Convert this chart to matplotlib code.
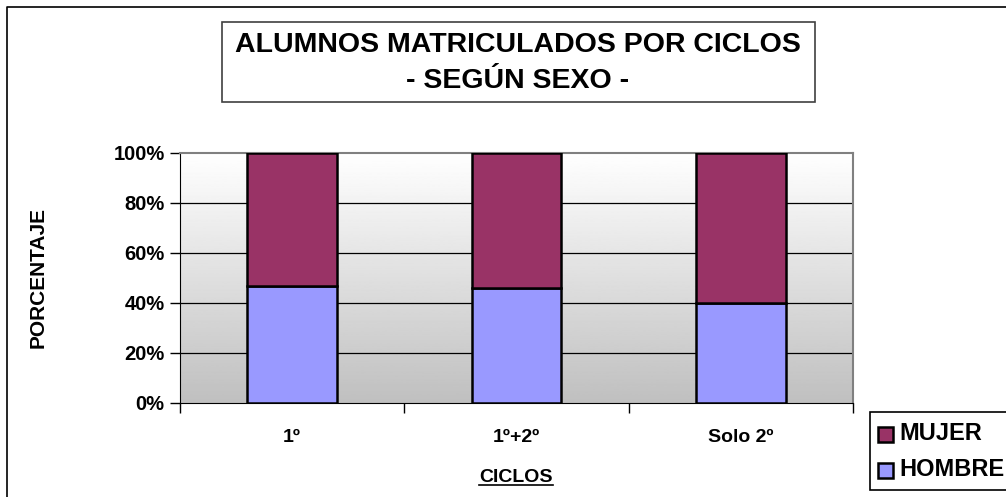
import matplotlib
matplotlib.use('Agg')
import matplotlib.pyplot as plt
import numpy as np
from matplotlib.patches import Rectangle
from matplotlib.lines import Line2D
from matplotlib.ticker import PercentFormatter

plt.rcParams['font.family'] = ['Liberation Sans', 'DejaVu Sans']

# Data
ciclos = ['1º', '1º+2º', 'Solo 2º']
hombre = [47, 46, 40]
mujer = [53, 54, 60]
color_hombre = '#9999FF'
color_mujer = '#993366'

W, H = 1006, 497
fig = plt.figure(figsize=(W / 100, H / 100), dpi=100)

def fx(px):
    return px / W

def fy(py):
    return 1 - py / H

# outer chart border (cut at right and bottom)
fig.add_artist(Line2D([fx(7), fx(7), fx(1006)], [fy(497), fy(7), fy(7)],
                      transform=fig.transFigure, color='black', lw=1.2))

# plot area
ax = fig.add_axes([fx(180), fy(403), fx(853) - fx(180), fy(153) - fy(403)])
x = np.arange(len(ciclos))
ax.set_xlim(-0.5, len(ciclos) - 0.5)
ax.set_ylim(0, 100)

# gradient background
grad = np.linspace(1.0, 0.75, 256).reshape(-1, 1)
ax.imshow(grad, cmap='gray', vmin=0, vmax=1, aspect='auto',
          extent=[-0.5, len(ciclos) - 0.5, 0, 100], origin='upper', zorder=0)

for yv in [20, 40, 60, 80]:
    ax.axhline(yv, color='black', lw=0.9, zorder=1)

ax.bar(x, hombre, width=0.4, color=color_hombre, edgecolor='black', lw=1.8, zorder=3)
ax.bar(x, mujer, width=0.4, bottom=hombre, color=color_mujer, edgecolor='black', lw=1.8, zorder=3)

ax.spines['top'].set_color('#808080')
ax.spines['right'].set_color('#808080')
ax.spines['top'].set_linewidth(1.5)
ax.spines['right'].set_linewidth(1.5)
ax.spines['left'].set_color('black')
ax.spines['bottom'].set_color('black')

ax.set_yticks([0, 20, 40, 60, 80, 100])
ax.yaxis.set_major_formatter(PercentFormatter(decimals=0))
ax.tick_params(axis='y', direction='out', length=7, width=1, labelsize=14.5, pad=4)
for t in ax.get_yticklabels():
    t.set_fontweight('bold')

# category boundaries as ticks, labels at centres
ax.set_xticks([-0.5, 0.5, 1.5, 2.5])
ax.set_xticklabels([])
ax.tick_params(axis='x', direction='out', length=7, width=1)
for i, c in enumerate(ciclos):
    ax.text(i, -10.5, c, ha='center', va='top', fontsize=14, fontweight='bold')

# axis labels
fig.text(fx(38), fy(278), 'PORCENTAJE', rotation=90, ha='center', va='center',
         fontsize=15, fontweight='bold')
xl = fig.text(fx(516), fy(478), 'CICLOS', ha='center', va='center',
              fontsize=14, fontweight='bold')

# title box
fig.add_artist(Rectangle((fx(222), fy(102)), fx(815) - fx(222), fy(22) - fy(102),
                         transform=fig.transFigure, facecolor='white',
                         edgecolor='#404040', lw=1.2))
fig.text(fx(518), fy(45), 'ALUMNOS MATRICULADOS POR CICLOS', ha='center', va='center',
         fontsize=20.5, fontweight='bold')
fig.text(fx(518), fy(81), '- SEGÚN SEXO -', ha='center', va='center',
         fontsize=20.5, fontweight='bold')

# legend box (runs off the right edge)
fig.add_artist(Rectangle((fx(870), fy(490)), fx(1100) - fx(870), fy(412) - fy(490),
                         transform=fig.transFigure, facecolor='white',
                         edgecolor='black', lw=1.2, clip_on=False))
leg_items = [('MUJER', color_mujer, 434), ('HOMBRE', color_hombre, 470)]
for lab, col, py in leg_items:
    fig.add_artist(Rectangle((fx(878), fy(py + 8)), fx(15), 15 / H,
                             transform=fig.transFigure, facecolor=col,
                             edgecolor='black', lw=1.8))
    fig.text(fx(899), fy(py), lab, ha='left', va='center', fontsize=17, fontweight='bold')

# underline CICLOS
fig.canvas.draw()
bb = xl.get_window_extent().transformed(fig.transFigure.inverted())
fig.add_artist(Line2D([bb.x0, bb.x1], [bb.y0 + 0.004, bb.y0 + 0.004],
                      transform=fig.transFigure, color='black', lw=1.2))

fig.savefig('out.png', dpi=100)
